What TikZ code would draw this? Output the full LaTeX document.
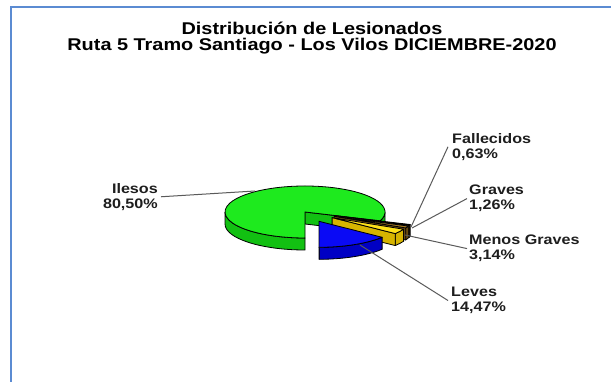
\documentclass[tikz,border=0pt]{standalone}
\usepackage{fontspec}
\setmainfont{Liberation Sans}[FakeStretch=1.17]
\usetikzlibrary{calc}
\definecolor{framec}{HTML}{5B8BD2}
\definecolor{gtop}{HTML}{1EEA1E}
\definecolor{gside}{HTML}{12C012}
\definecolor{btop}{HTML}{0A0AF5}
\definecolor{bside}{HTML}{0000C4}
\definecolor{ytop}{HTML}{FFE21A}
\definecolor{yside}{HTML}{D6B400}
\definecolor{grtop}{HTML}{A87C24}
\definecolor{grside}{HTML}{7A5614}
\definecolor{fatop}{HTML}{5E3C12}
\definecolor{faside}{HTML}{3E280A}
\definecolor{leadc}{HTML}{5A5A5A}
\definecolor{txtc}{HTML}{1E1E1E}
\newcommand\wedgeslice[6]{%
 \begin{scope}[shift={(#1,#2)}]
  \filldraw[fill=#6,piece] (#3:80 and 26) arc[start angle=#3,end angle=#4,x radius=80,y radius=26] -- ++(0,-12) arc[start angle=#4,end angle=#3,x radius=80,y radius=26] -- cycle;
  \filldraw[fill=#6,piece] (0,0) -- (#3:80 and 26) -- ++(0,-12) -- (0,-12) -- cycle;
  \filldraw[fill=#5,piece] (0,0) -- (#3:80 and 26) arc[start angle=#3,end angle=#4,x radius=80,y radius=26] -- cycle;
 \end{scope}}
\begin{document}
\begin{tikzpicture}[x=1pt,y=1pt,
  piece/.style={draw=black,line width=0.8pt,line join=round},
  lbl/.style={inner sep=0pt,text=txtc,font=\fontsize{13.8}{15}\selectfont\bfseries},
  ttl/.style={inner sep=0pt,text=black,font=\fontsize{17}{18}\selectfont\bfseries},
  leader/.style={draw=leadc,line width=1pt}]
\useasboundingbox (0,0) rectangle (611,-382);
\fill[white] (0,0) rectangle (611,-382);
\draw[framec,line width=2pt] (11,-382) -- (11,-7) -- (611,-7);
% title
\node[ttl,anchor=base] (t1) at (312,-34.5) {Distribución de Lesionados};
\node[ttl,anchor=base] (t2) at (312,-51) {Ruta 5 Tramo Santiago - Los Vilos DICIEMBRE-2020};
% pie
\begin{scope}[shift={(305,-212)}]
  % Ilesos
  \filldraw[fill=gside,piece] (-19.8:80 and 26) arc[start angle=-19.8,end angle=0,x radius=80,y radius=26] -- ++(0,-12) arc[start angle=0,end angle=-19.8,x radius=80,y radius=26] -- cycle;
  \filldraw[fill=gside,piece] (180:80 and 26) arc[start angle=180,end angle=270,x radius=80,y radius=26] -- ++(0,-12) arc[start angle=270,end angle=180,x radius=80,y radius=26] -- cycle;
  \filldraw[fill=gside,piece] (0,0) -- (-19.8:80 and 26) -- ++(0,-12) -- (0,-12) -- cycle;
  \filldraw[fill=gtop,piece] (0,0) -- (-19.8:80 and 26) arc[start angle=-19.8,end angle=270,x radius=80,y radius=26] -- cycle;
  % Fallecidos, Graves, Menos Graves, Leves
  \wedgeslice{29.9}{-3.7}{-22.07}{-19.8}{fatop}{faside}
  \wedgeslice{29.2}{-4.3}{-26.61}{-22.07}{grtop}{grside}
  \wedgeslice{27.1}{-5.6}{-37.91}{-26.61}{ytop}{yside}
  \wedgeslice{14.0}{-9.3}{-90}{-37.91}{btop}{bside}
\end{scope}
% leader end points on the pie
\coordinate (pIl) at (255,-191);
\coordinate (pFa) at (411,-227);
\coordinate (pGr) at (412,-228);
\coordinate (pMe) at (405,-235);
\coordinate (pLe) at (360,-245);
% labels
\node[lbl,anchor=north east,align=right] (iles) at (158,-183) {Ilesos\\80,50\%};
\node[lbl,anchor=north west,align=left] (fall) at (452,-133) {Fallecidos\\0,63\%};
\node[lbl,anchor=north west,align=left] (grav) at (469,-185) {Graves\\1,26\%};
\node[lbl,anchor=north west,align=left] (meno) at (469,-235) {Menos Graves\\3,14\%};
\node[lbl,anchor=north west,align=left] (leve) at (451,-287) {Leves\\14,47\%};
% leaders
\draw[leader] ([xshift=3pt]iles.east) -- (pIl);
\draw[leader] ([xshift=-4pt]fall.west) -- (pFa);
\draw[leader] ([xshift=-2pt]grav.west) -- (pGr);
\draw[leader] ([xshift=-2pt]meno.west) -- (pMe);
\draw[leader] ([xshift=-3pt]leve.west) -- (pLe);
\end{tikzpicture}
\end{document}
